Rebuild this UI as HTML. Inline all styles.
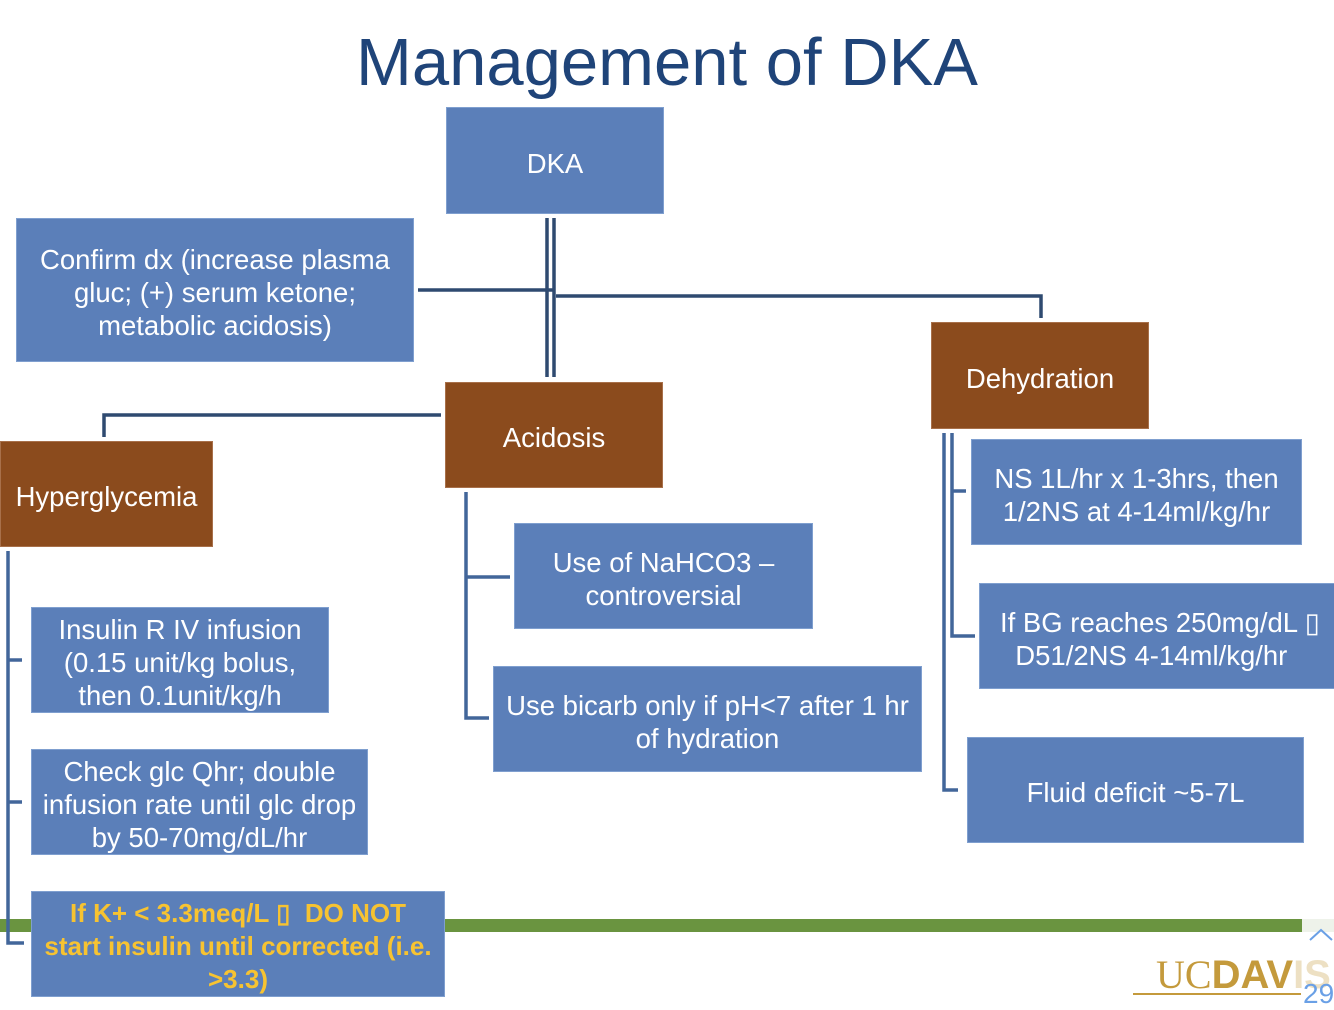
<!DOCTYPE html>
<html><head><meta charset="utf-8"><style>
body{margin:0;width:1334px;height:1004px;position:relative;overflow:hidden;background:#fff;font-family:"Liberation Sans",sans-serif}
.b{position:absolute;display:flex;align-items:center;justify-content:center;text-align:center;color:#fff;font-size:27.5px;line-height:33px;box-sizing:border-box;border:1px solid #7f9fcf;padding-top:5px;white-space:nowrap}
.bl{background:#5b7fb9}
.br{background:#8b4b1d;border-color:#a8704a}
h1{position:absolute;top:24px;left:0;width:1334px;text-align:center;margin:0;font-weight:normal;font-size:67px;color:#1f4479;letter-spacing:0}
svg{position:absolute;left:0;top:0}
</style></head><body>
<h1>Management of DKA</h1>
<svg width="1334" height="1004">
<rect x="0" y="919" width="1302" height="13" fill="#6a9440"/>
<path d="M1302 919 h32 v13 h-32z" fill="#eef2ea"/>
<polyline points="1310,940 1321,930 1332,940" fill="none" stroke="#6aa0e6" stroke-width="2"/>
<g fill="none" stroke="#2f4a70" stroke-width="3.5">
<line x1="547" y1="218" x2="547" y2="377"/>
<line x1="554" y1="218" x2="554" y2="377"/>
<line x1="418" y1="290" x2="553" y2="290"/>
<polyline points="556,296 1041,296 1041,318"/>
<polyline points="441,415 104,415 104,437"/>
</g>
<g fill="none" stroke="#42669a" stroke-width="3.5">
<polyline points="510,577 466,577"/>
<polyline points="466,492 466,718 489,718"/>
<polyline points="8,551 8,943 24,943"/>
<line x1="8" y1="660" x2="22" y2="660"/>
<line x1="8" y1="802" x2="22" y2="802"/>
<polyline points="944,433 944,790 958,790"/>
<polyline points="952,433 952,636 975,636"/>
<line x1="952" y1="491" x2="966" y2="491"/>
</g>
</svg>
<div class="b bl" style="left:446px;top:107px;width:218px;height:107px">DKA</div>
<div class="b bl" style="left:16px;top:218px;width:398px;height:144px">Confirm dx (increase plasma<br>gluc; (+) serum ketone;<br>metabolic acidosis)</div>
<div class="b br" style="left:445px;top:382px;width:218px;height:106px">Acidosis</div>
<div class="b br" style="left:931px;top:322px;width:218px;height:107px">Dehydration</div>
<div class="b br" style="left:0;top:441px;width:213px;height:106px">Hyperglycemia</div>
<div class="b bl" style="left:514px;top:523px;width:299px;height:106px">Use of NaHCO3 –<br>controversial</div>
<div class="b bl" style="left:493px;top:666px;width:429px;height:106px">Use bicarb only if pH&lt;7 after 1 hr<br>of hydration</div>
<div class="b bl" style="left:31px;top:607px;width:298px;height:106px">Insulin R IV infusion<br>(0.15 unit/kg bolus,<br>then 0.1unit/kg/h</div>
<div class="b bl" style="left:31px;top:749px;width:337px;height:106px">Check glc Qhr; double<br>infusion rate until glc drop<br>by 50-70mg/dL/hr</div>
<div class="b bl" style="left:31px;top:891px;width:414px;height:106px;color:#f7c331;font-weight:bold;font-size:26px">If K+ &lt; 3.3meq/L ▯ &nbsp;DO NOT<br>start insulin until corrected (i.e.<br>&gt;3.3)</div>
<div class="b bl" style="left:971px;top:439px;width:331px;height:106px">NS 1L/hr x 1-3hrs, then<br>1/2NS at 4-14ml/kg/hr</div>
<div class="b bl" style="left:979px;top:583px;width:360px;height:106px;justify-content:flex-start;padding-left:20px;text-align:left">If BG reaches 250mg/dL ▯<br>&nbsp;&nbsp;D51/2NS 4-14ml/kg/hr</div>
<div class="b bl" style="left:967px;top:737px;width:337px;height:106px">Fluid deficit ~5-7L</div>
<div style="position:absolute;left:1156px;top:955px;font-family:'Liberation Serif',serif;font-size:40px;color:#c49a3c;line-height:40px">UC<b style="font-family:'Liberation Sans',sans-serif">DAV</b><span style="opacity:.3;font-family:'Liberation Sans',sans-serif;font-weight:bold">IS</span></div>
<div style="position:absolute;left:1133px;top:993px;width:168px;height:2px;background:#c49a3c"></div>
<div style="position:absolute;left:1303px;top:978px;font-size:28px;color:#6aa0e6">29</div>
</body></html>
